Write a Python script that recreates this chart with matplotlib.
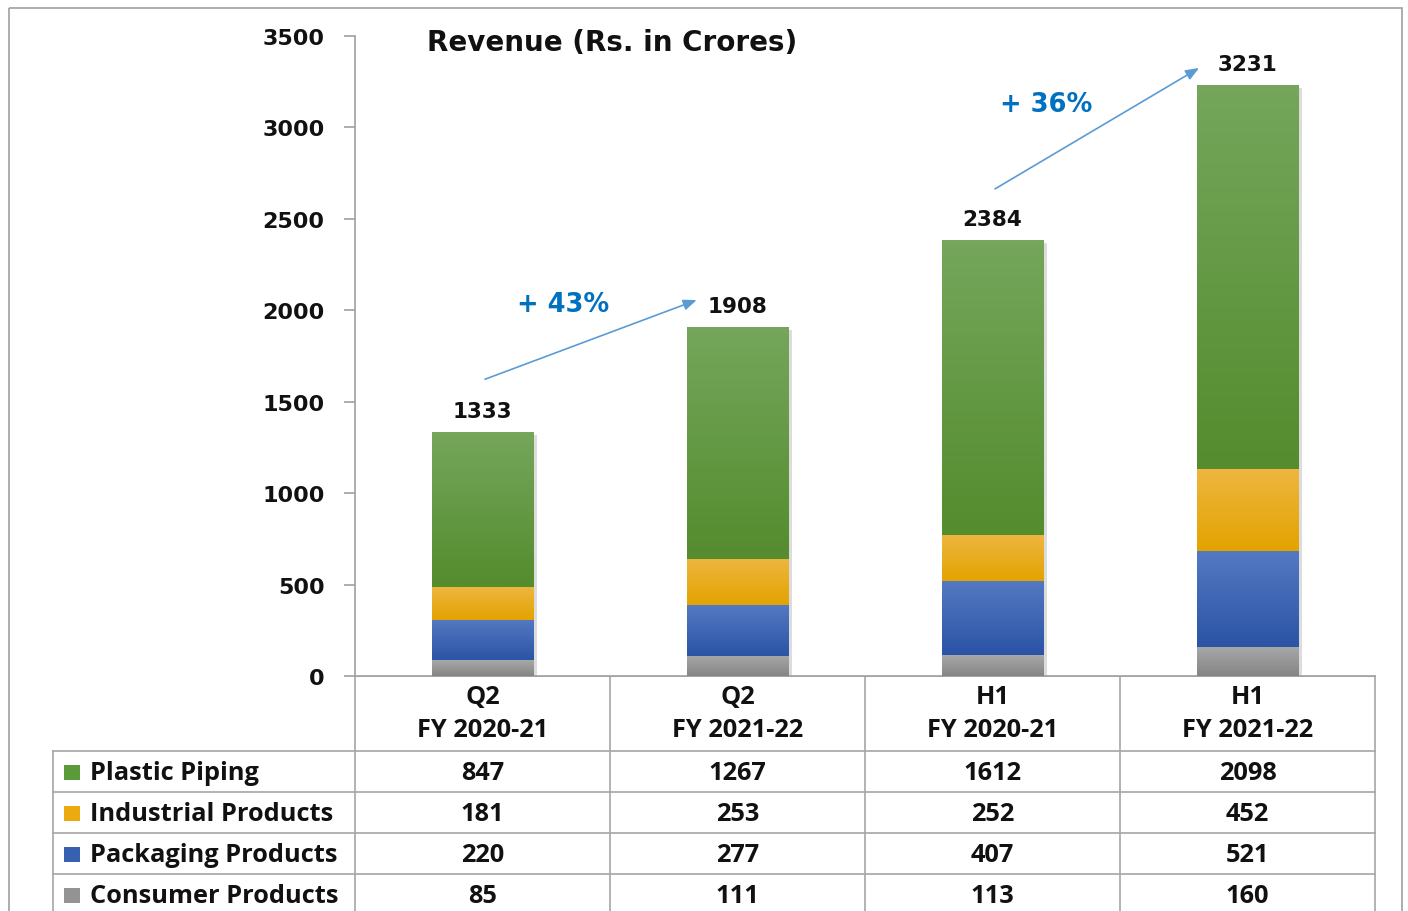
import matplotlib
matplotlib.use("Agg")
import matplotlib.pyplot as plt
import numpy as np
from matplotlib.colors import LinearSegmentedColormap
from matplotlib.patches import Rectangle

# ---------------- data ----------------
periods_top = ["Q2", "Q2", "H1", "H1"]
periods_bottom = ["FY 2020-21", "FY 2021-22", "FY 2020-21", "FY 2021-22"]
series_names = ["Plastic Piping", "Industrial Products", "Packaging Products", "Consumer Products"]
plastic_piping = [847, 1267, 1612, 2098]
industrial_products = [181, 253, 252, 452]
packaging_products = [220, 277, 407, 521]
consumer_products = [85, 111, 113, 160]
totals = [1333, 1908, 2384, 3231]
growth_labels = ["+ 43%", "+ 36%"]
yticks = [0, 500, 1000, 1500, 2000, 2500, 3000, 3500]
title = "Revenue (Rs. in Crores)"

# stacking order bottom -> top
stack = [consumer_products, packaging_products, industrial_products, plastic_piping]
stack_cols = [("#A8A8A8", "#858585"), ("#5479C2", "#2B54A6"),
              ("#EEB640", "#E3A300"), ("#75A65B", "#548C2E")]
legend_cols = {"Plastic Piping": "#5B9A3A", "Industrial Products": "#EAAA10",
               "Packaging Products": "#3760B0", "Consumer Products": "#939393"}
series_vals = {"Plastic Piping": plastic_piping, "Industrial Products": industrial_products,
               "Packaging Products": packaging_products, "Consumer Products": consumer_products}

W, H = 1408, 912
fig = plt.figure(figsize=(W / 100, H / 100), dpi=100)
fig.patch.set_facecolor("white")

# layout in pixels
AX_L, AX_R, AX_T, AX_B = 355, 1375, 37, 677
ax = fig.add_axes([AX_L / W, 1 - AX_B / H, (AX_R - AX_L) / W, (AX_B - AX_T) / H])
x = np.arange(len(totals))
width = 0.40
ymax = 3500

bottom = np.zeros(len(x))
for vals, (ctop, cbot) in zip(stack, stack_cols):
    vals = np.array(vals, dtype=float)
    bars = ax.bar(x, vals, width, bottom=bottom, color=cbot, edgecolor="none", zorder=2)
    cmap = LinearSegmentedColormap.from_list("g", [cbot, ctop])
    grad = np.linspace(0, 1, 64).reshape(-1, 1)
    for b in bars:
        x0, y0 = b.get_x(), b.get_y()
        im = ax.imshow(grad, extent=[x0, x0 + b.get_width(), y0, y0 + b.get_height()],
                       origin="lower", aspect="auto", cmap=cmap, zorder=3)
        im.set_clip_path(b)
    bottom += vals

# subtle shadow on right side of bars
for xi, t in zip(x, totals):
    ax.add_patch(Rectangle((xi + width / 2, 0), 0.012, t - 15, color="#DCDCDC", zorder=1, lw=0))

ax.set_xlim(-0.5, len(x) - 0.5)
ax.set_ylim(0, ymax)
ax.set_yticks(yticks)
ax.set_yticklabels([str(v) for v in yticks], fontsize=16, fontweight="bold", color="#111111",
                   family="DejaVu Sans")
ax.tick_params(axis="y", length=8, width=1.2, color="#A0A0A0", pad=14)
ax.set_xticks([])
for s in ["top", "right"]:
    ax.spines[s].set_visible(False)
ax.spines["left"].set_color("#A0A0A0")
ax.spines["left"].set_linewidth(1.2)
ax.spines["bottom"].set_color("#A0A0A0")
ax.spines["bottom"].set_linewidth(1.2)

# total labels
for xi, t in zip(x, totals):
    ax.annotate(str(t), (xi, t), xytext=(0, 8), textcoords="offset points",
                ha="center", va="bottom", fontsize=15.5, fontweight="bold", color="#111111")

# title
ax.text(0.071, 0.9906, title, transform=ax.transAxes, ha="left", va="center",
        fontsize=20, fontweight="bold", color="#111111")

# growth arrows
arrow_blue = "#5B9BD5"
pairs = [(0, 1), (2, 3)]
start_off = [290, 280]
end_off = [148, 94]
text_pos = [(0.315, 2034), (2.21, 3128)]
end_dx = [-0.16, -0.19]
for (i, j), so, eo, lab, tp, dx in zip(pairs, start_off, end_off, growth_labels, text_pos, end_dx):
    ax.annotate("", xy=(x[j] + dx, totals[j] + eo), xytext=(x[i] + 0.01, totals[i] + so),
                arrowprops=dict(arrowstyle="-|>,head_length=0.8,head_width=0.32",
                                color=arrow_blue, lw=1.2, shrinkA=0, shrinkB=0), zorder=5)
    ax.text(tp[0], tp[1], lab, ha="center", va="center", fontsize=18.5, fontweight="bold",
            color="#0070C0")

# ---------------- data table ----------------
tax = fig.add_axes([0, 0, 1, 1], zorder=-1)
tax.set_xlim(0, W)
tax.set_ylim(H, 0)
tax.axis("off")
lc = "#A6A6A6"
# outer border
tax.add_patch(Rectangle((9, 9), 1393, 920, fill=False, ec="#A0A0A0", lw=1.2))

col_w = (AX_R - AX_L) / len(totals)
col_edges = [AX_L + col_w * k for k in range(len(totals) + 1)]
TBL_L = 53
hdr_top, hdr_bot = AX_B, 752
row_h = 41
row_edges = [hdr_bot + row_h * k for k in range(len(series_names) + 1)]

# vertical lines
for cx in col_edges:
    tax.plot([cx, cx], [hdr_top, H + 5], color=lc, lw=1.2)
tax.plot([TBL_L, TBL_L], [hdr_bot, H + 5], color=lc, lw=1.2)
# horizontal lines
tax.plot([AX_L, AX_R], [hdr_top, hdr_top], color=lc, lw=1.2)
for ry in row_edges[:-1]:
    tax.plot([TBL_L, AX_R], [ry, ry], color=lc, lw=1.2)
tax.plot([TBL_L, AX_R], [row_edges[-1], row_edges[-1]], color=lc, lw=1.2)

tfont = dict(family="Open Sans", fontweight="bold", fontsize=18.3, color="#111111")
for k in range(len(totals)):
    cx = (col_edges[k] + col_edges[k + 1]) / 2
    tax.text(cx, 698, periods_top[k], ha="center", va="center", **tfont)
    tax.text(cx, 731, periods_bottom[k], ha="center", va="center", **tfont)

for r, name in enumerate(series_names):
    cy = (row_edges[r] + row_edges[r + 1]) / 2 + 1
    tax.add_patch(Rectangle((64, cy - 7.5), 16, 15, color=legend_cols[name], lw=0))
    tax.text(90, cy, name, ha="left", va="center", **tfont)
    for k, v in enumerate(series_vals[name]):
        cx = (col_edges[k] + col_edges[k + 1]) / 2
        tax.text(cx, cy, str(v), ha="center", va="center", **tfont)

fig.savefig("out.png", dpi=100, facecolor="white")
